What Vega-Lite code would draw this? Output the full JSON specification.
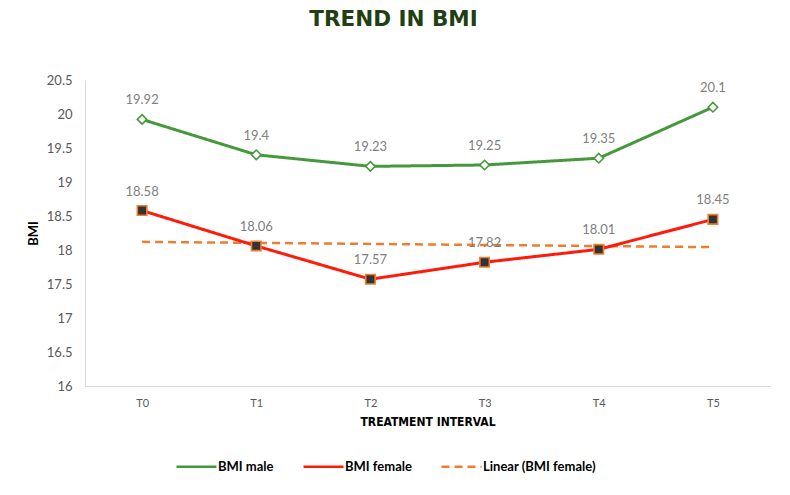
{
  "$schema": "https://vega.github.io/schema/vega-lite/v6.json",
  "width": 685,
  "height": 306,
  "autosize": {"type": "none"},
  "padding": {"left": 85, "top": 80, "right": 20, "bottom": 109},
  "background": "white",
  "config": {"view": {"stroke": null}},
  "title": {
    "text": "TREND IN BMI",
    "anchor": "middle",
    "dx": -34,
    "offset": 44,
    "font": "DejaVu Sans",
    "fontSize": 21.5,
    "fontWeight": "bold",
    "color": "#1f3f14"
  },
  "data": {
    "values": [
      {"T": "T0", "series": "BMI male", "value": 19.92},
      {"T": "T1", "series": "BMI male", "value": 19.4},
      {"T": "T2", "series": "BMI male", "value": 19.23},
      {"T": "T3", "series": "BMI male", "value": 19.25},
      {"T": "T4", "series": "BMI male", "value": 19.35},
      {"T": "T5", "series": "BMI male", "value": 20.1},
      {"T": "T0", "series": "BMI female", "value": 18.58},
      {"T": "T1", "series": "BMI female", "value": 18.06},
      {"T": "T2", "series": "BMI female", "value": 17.57},
      {"T": "T3", "series": "BMI female", "value": 17.82},
      {"T": "T4", "series": "BMI female", "value": 18.01},
      {"T": "T5", "series": "BMI female", "value": 18.45},
      {"T": "T0", "series": "Linear (BMI female)", "value": 18.12},
      {"T": "T1", "series": "Linear (BMI female)", "value": 18.105},
      {"T": "T2", "series": "Linear (BMI female)", "value": 18.09},
      {"T": "T3", "series": "Linear (BMI female)", "value": 18.074},
      {"T": "T4", "series": "Linear (BMI female)", "value": 18.058},
      {"T": "T5", "series": "Linear (BMI female)", "value": 18.042}
    ]
  },
  "encoding": {
    "x": {
      "field": "T",
      "type": "ordinal",
      "scale": {"type": "point", "padding": 0.5},
      "axis": {
        "title": "TREATMENT INTERVAL",
        "labelAngle": 0,
        "labelFont": "Lato",
        "labelFontSize": 11,
        "labelColor": "#595959",
        "labelPadding": 11,
        "ticks": false,
        "tickSize": 0,
        "domainColor": "#d9d9d9",
        "domainWidth": 1,
        "titleFont": "DejaVu Sans Condensed, Lato, sans-serif",
        "titleFontSize": 12,
        "titleFontWeight": "bold",
        "titleColor": "#000000",
        "titlePadding": 8
      }
    },
    "y": {
      "field": "value",
      "type": "quantitative",
      "scale": {"domain": [16, 20.5], "nice": false, "zero": false},
      "axis": {
        "title": "BMI",
        "values": [16, 16.5, 17, 17.5, 18, 18.5, 19, 19.5, 20, 20.5],
        "format": "~g",
        "grid": false,
        "ticks": false,
        "tickSize": 0,
        "labelFont": "Lato",
        "labelFontSize": 13,
        "labelColor": "#595959",
        "labelPadding": 13,
        "domainColor": "#d9d9d9",
        "domainWidth": 1,
        "titleFont": "Lato",
        "titleFontSize": 13,
        "titleFontWeight": "bold",
        "titleColor": "#000000",
        "titlePadding": 6
      }
    }
  },
  "layer": [
    {
      "transform": [{"filter": "datum.series === 'Linear (BMI female)'"}],
      "mark": {"type": "line", "strokeWidth": 2.5},
      "encoding": {
        "color": {
          "field": "series",
          "type": "nominal",
          "scale": {
            "domain": ["BMI male", "BMI female", "Linear (BMI female)"],
            "range": ["#45993a", "#ff1a0a", "#ed7d31"]
          },
          "legend": {
            "orient": "none",
            "legendX": 90,
            "legendY": 365,
            "direction": "horizontal",
            "title": null,
            "labelFont": "Lato",
            "labelFontSize": 13,
            "labelFontWeight": "bold",
            "labelColor": "#000000",
            "symbolSize": 1600,
            "symbolStrokeWidth": 2.5,
            "columnPadding": 24,
            "labelOffset": 0
          }
        },
        "strokeDash": {
          "field": "series",
          "type": "nominal",
          "scale": {
            "domain": ["BMI male", "BMI female", "Linear (BMI female)"],
            "range": [[1, 0], [1, 0], [8, 5]]
          },
          "legend": null
        }
      }
    },
    {
      "transform": [{"filter": "datum.series !== 'Linear (BMI female)'"}],
      "mark": {"type": "line", "strokeWidth": 3},
      "encoding": {
        "color": {"field": "series", "type": "nominal"},
        "strokeDash": {"field": "series", "type": "nominal", "legend": null}
      }
    },
    {
      "transform": [{"filter": "datum.series === 'BMI male'"}],
      "mark": {"type": "point", "shape": "diamond", "size": 90, "filled": true, "fill": "#ffffff", "stroke": "#45993a", "strokeWidth": 1.6, "opacity": 1}
    },
    {
      "transform": [{"filter": "datum.series === 'BMI female'"}],
      "mark": {"type": "point", "shape": "square", "size": 90, "filled": true, "fill": "#333333", "stroke": "#ed7d31", "strokeWidth": 1.6, "opacity": 1}
    },
    {
      "transform": [{"filter": "datum.series !== 'Linear (BMI female)'"}],
      "mark": {"type": "text", "dy": -19, "baseline": "middle", "align": "center", "font": "Lato", "fontSize": 13, "color": "#7f7f7f"},
      "encoding": {
        "text": {"field": "value", "type": "quantitative", "format": ".4~g"}
      }
    }
  ]
}
